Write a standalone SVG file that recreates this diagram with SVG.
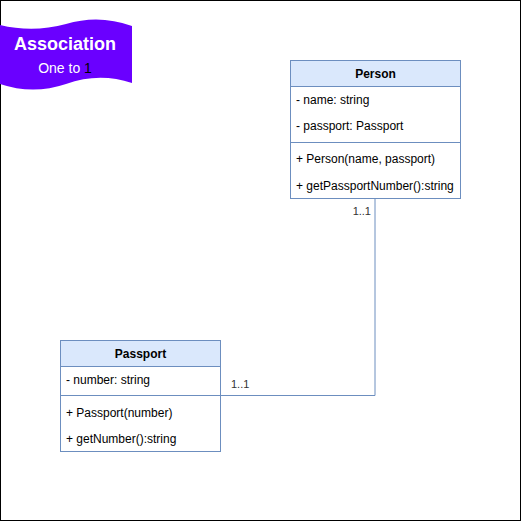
<svg xmlns="http://www.w3.org/2000/svg" width="521" height="521" viewBox="0 0 521 521">
<style>
.box{fill:#ffffff;stroke:#6c8ebf;stroke-width:1}
.hdr{fill:#dae8fc;stroke:#6c8ebf;stroke-width:1}
.sep{stroke:#6c8ebf;stroke-width:1;fill:none}
.t{font-family:"Liberation Sans",Arial,sans-serif;font-size:12px;fill:#000000}
.title{font-family:"Liberation Sans",Arial,sans-serif;font-size:12px;font-weight:bold;fill:#000000;text-anchor:middle}
.lbl{font-family:"Liberation Sans",Arial,sans-serif;font-size:11px;fill:#333333}
.edge{stroke:#6c8ebf;stroke-width:1;fill:none}
</style>
<rect x="0" y="0" width="521" height="521" fill="#ffffff"/>
<rect x="0.5" y="0.5" width="520" height="520" fill="none" stroke="#000000" stroke-width="1"/>

<g id="flag">
  <path d="M0,25 Q33,33 66,24 Q99,14 132,26 L132,83 Q99,72 66,84 Q33,95 0,84 Z" fill="#6a00ff" stroke="none"/>
  <text x="65" y="50" text-anchor="middle" font-family="'Liberation Sans',Arial,sans-serif" font-size="18" font-weight="bold" fill="#ffffff">Association</text>
  <text x="65" y="73" text-anchor="middle" font-family="'Liberation Sans',Arial,sans-serif" font-size="14" fill="#ffffff">One to <tspan fill="#000000">1</tspan></text>
</g>

<g id="connectors">
  <polyline class="edge" points="375,198.5 375,395.5 220.5,395.5"/>
  <text class="lbl" x="371" y="215" text-anchor="end">1..1</text>
  <text class="lbl" x="231" y="388">1..1</text>
</g>

<g id="person">
  <rect class="box" x="290.5" y="60.5" width="170" height="138"/>
  <rect class="hdr" x="290.5" y="60.5" width="170" height="26"/>
  <text class="title" x="375.5" y="78">Person</text>
  <text class="t" x="296" y="104">- name: string</text>
  <text class="t" x="296" y="130">- passport: Passport</text>
  <line class="sep" x1="290.5" y1="142.5" x2="460.5" y2="142.5"/>
  <text class="t" x="296" y="163">+ Person(name, passport)</text>
  <text class="t" x="296" y="190">+ getPassportNumber():string</text>
</g>

<g id="passport">
  <rect class="box" x="60.5" y="340.5" width="160" height="111"/>
  <rect class="hdr" x="60.5" y="340.5" width="160" height="26"/>
  <text class="title" x="140.5" y="358">Passport</text>
  <text class="t" x="66" y="384">- number: string</text>
  <line class="sep" x1="60.5" y1="395.5" x2="220.5" y2="395.5"/>
  <text class="t" x="66" y="417">+ Passport(number)</text>
  <text class="t" x="66" y="443">+ getNumber():string</text>
</g>
</svg>
